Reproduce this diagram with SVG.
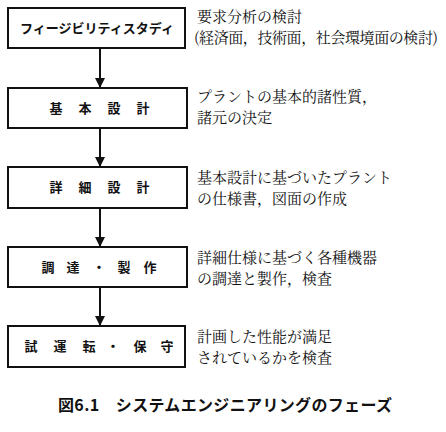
<svg xmlns="http://www.w3.org/2000/svg" width="446" height="432" viewBox="0 0 446 432">
<style>
.box{fill:#fff;stroke:#111;stroke-width:2}
.lbl{font-family:"Noto Sans CJK JP","Noto Sans",sans-serif;font-size:13px;font-weight:bold;fill:#111;text-anchor:middle}
.note{font-family:"Noto Serif CJK JP","Noto Sans CJK JP",serif;font-size:15px;fill:#111}
.cap{font-family:"Noto Sans CJK JP","Noto Sans",sans-serif;font-size:16px;font-weight:bold;fill:#111}
.conn{stroke:#111;stroke-width:2;fill:none}
</style>
<defs>
<marker id="ah" viewBox="0 0 10 10" refX="10" refY="5" markerWidth="5" markerHeight="5" orient="auto" markerUnits="strokeWidth">
<path d="M0,0 L10,5 L0,10 z" fill="#111"/>
</marker>
</defs>
<g id="connectors">
<line class="conn" x1="100" y1="48" x2="100" y2="88" marker-end="url(#ah)"/>
<line class="conn" x1="100" y1="128" x2="100" y2="167" marker-end="url(#ah)"/>
<line class="conn" x1="100" y1="208" x2="100" y2="247" marker-end="url(#ah)"/>
<line class="conn" x1="100" y1="287" x2="100" y2="326" marker-end="url(#ah)"/>
</g>
<g id="n1">
<rect class="box" x="8" y="8" width="177" height="40"/>
<text class="lbl" x="97" y="33">フィージビリティスタディ</text>
<text class="note" x="197" y="22">要求分析の検討</text>
<text class="note" x="194" y="43" textLength="244" lengthAdjust="spacing">(経済面，技術面，社会環境面の検討)</text>
</g>
<g id="n2">
<rect class="box" x="8" y="88" width="179" height="40"/>
<text class="lbl" x="56 85 114 143" y="113">基本設計</text>
<text class="note" x="197" y="102">プラントの基本的諸性質，</text>
<text class="note" x="197" y="123">諸元の決定</text>
</g>
<g id="n3">
<rect class="box" x="8" y="167" width="179" height="41"/>
<text class="lbl" x="56 85 114 143" y="192">詳細設計</text>
<text class="note" x="197" y="183">基本設計に基づいたプラント</text>
<text class="note" x="197" y="204">の仕様書，図面の作成</text>
</g>
<g id="n4">
<rect class="box" x="8" y="247" width="179" height="40"/>
<text class="lbl" x="48 73 99 124 150" y="272">調達・製作</text>
<text class="note" x="197" y="263">詳細仕様に基づく各種機器</text>
<text class="note" x="197" y="284">の調達と製作，検査</text>
</g>
<g id="n5">
<rect class="box" x="8" y="326" width="177" height="41"/>
<text class="lbl" x="31 60 89 113 140 167" y="351">試運転・保守</text>
<text class="note" x="197" y="342">計画した性能が満足</text>
<text class="note" x="197" y="363">されているかを検査</text>
</g>
<text class="cap" x="58" y="411" textLength="334" lengthAdjust="spacing">図6.1　システムエンジニアリングのフェーズ</text>
</svg>
